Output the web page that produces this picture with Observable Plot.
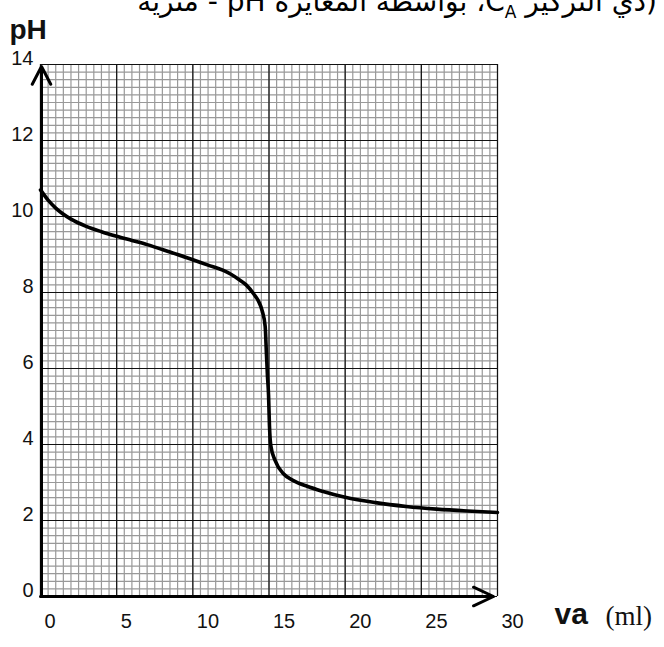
<!DOCTYPE html>
<html>
<head>
<meta charset="utf-8">
<script src="https://cdn.jsdelivr.net/npm/d3@7"></script>
<script src="https://cdn.jsdelivr.net/npm/@observablehq/plot@0.6"></script>
<style>
html, body { margin: 0; padding: 0; background: #fff; }
#wrap { position: relative; width: 664px; height: 647px; overflow: hidden; }
#title { position: absolute; right: 7px; top: -15px; direction: rtl; font-family: "DejaVu Sans", sans-serif; font-size: 28px; line-height: 34px; white-space: nowrap; color: #000; }
#title sub { font-size: 17px; line-height: 0; }
</style>
</head>
<body>
<div id="wrap">
  <div id="title">(ذي التركيز C<sub>A</sub>، بواسطة المعايرة pH - مترية</div>
  <div id="chart"></div>
</div>
<script>
// Titration curve: volume of acid added (ml) vs pH
const va = [0, 0.5, 1, 2, 3, 4, 5, 6, 7, 8, 9, 10, 11, 12, 12.5, 13, 13.5, 14, 14.3, 14.55, 14.75, 14.83, 14.9, 14.97, 15.03, 15.12, 15.4, 15.95, 16.6, 17.5, 18.5, 20, 22, 24, 26, 28, 30];
const pH = [10.7, 10.43, 10.22, 9.93, 9.74, 9.6, 9.48, 9.37, 9.26, 9.13, 9.0, 8.86, 8.72, 8.58, 8.48, 8.35, 8.2, 7.96, 7.78, 7.52, 7.1, 6.4, 5.8, 5.3, 4.5, 3.97, 3.58, 3.23, 3.05, 2.9, 2.77, 2.61, 2.47, 2.37, 2.3, 2.25, 2.21];

const xTicks = [0, 5, 10, 15, 20, 25, 30];
const yTicks = [0, 2, 4, 6, 8, 10, 12, 14];
const xMinorStep = 0.5;
const yMinorStep = 0.2;
const xLabel = "va";
const xUnit = "(ml)";
const yLabel = "pH";

const curveData = va.map((v, i) => ({va: v, pH: pH[i]}));
const xMinor = d3.range(xTicks[0], xTicks[xTicks.length - 1] + 1e-9, xMinorStep);
const yMinor = d3.range(yTicks[0], yTicks[yTicks.length - 1] + 1e-9, yMinorStep).map(d => Math.round(d * 10) / 10);
const xDom = [xTicks[0], xTicks[xTicks.length - 1]];
const yDom = [yTicks[0], yTicks[yTicks.length - 1]];
const xAxisLine = [{x1: xDom[0], y1: yDom[0], x2: xDom[1], y2: yDom[0]}];
const yAxisLine = [{x1: xDom[0], y1: yDom[0], x2: xDom[0], y2: yDom[1]}];

const chart = Plot.plot({
  width: 664,
  height: 647,
  marginLeft: 40,
  marginRight: 167,
  marginTop: 64,
  marginBottom: 51,
  x: {domain: xDom},
  y: {domain: yDom},
  style: {fontFamily: "'Liberation Sans', Arial, sans-serif", background: "#fff", color: "#111", overflow: "visible"},
  marks: [
    Plot.gridX(xMinor, {stroke: "#999", strokeOpacity: 1, strokeWidth: 1.2}),
    Plot.gridY(yMinor, {stroke: "#999", strokeOpacity: 1, strokeWidth: 1.2}),
    Plot.gridX(xTicks, {stroke: "#111", strokeOpacity: 1, strokeWidth: 1.2}),
    Plot.gridY(yTicks, {stroke: "#111", strokeOpacity: 1, strokeWidth: 1.2}),
    Plot.axisX(xTicks, {tickSize: 0, tickPadding: 17, textAnchor: "start", dx: 4, fontSize: 20, label: null}),
    Plot.axisY(yTicks, {tickSize: 0, tickPadding: 7, dy: -6, fontSize: 20, label: null}),
    Plot.line(curveData, {x: "va", y: "pH", curve: "monotone-x", stroke: "#000", strokeWidth: 3.6}),
    Plot.arrow(xAxisLine, {x1: "x1", y1: "y1", x2: "x2", y2: "y2", stroke: "#000", strokeWidth: 3, headLength: 11, headAngle: 50, insetEnd: 4}),
    Plot.arrow(yAxisLine, {x1: "x1", y1: "y1", x2: "x2", y2: "y2", stroke: "#000", strokeWidth: 3, headLength: 10, headAngle: 55, insetEnd: 2, dx: 1}),
    Plot.text([yLabel], {frameAnchor: "top-left", textAnchor: "start", dx: -31, dy: -45, fontSize: 28, fontWeight: "bold", fill: "#111"}),
    Plot.text([xLabel], {frameAnchor: "bottom-right", textAnchor: "start", dx: 57, dy: 27, fontSize: 30, fontWeight: "bold", fill: "#111"}),
    Plot.text([xUnit], {frameAnchor: "bottom-right", textAnchor: "start", dx: 108, dy: 28, fontSize: 27, fontFamily: "'Liberation Serif', 'Times New Roman', serif", fill: "#111"})
  ]
});
document.getElementById("chart").appendChild(chart);
</script>
</body>
</html>
